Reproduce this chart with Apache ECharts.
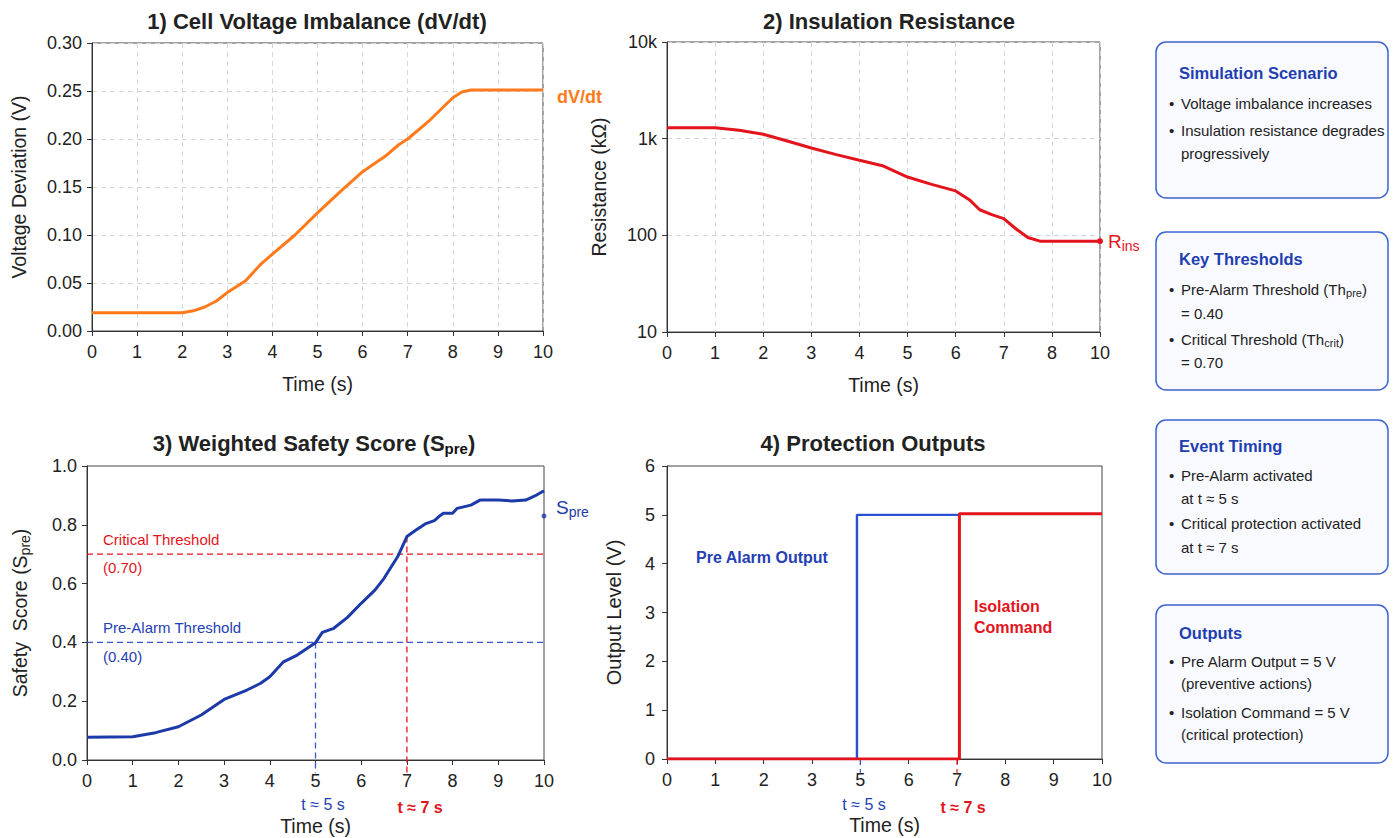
<!DOCTYPE html>
<html>
<head>
<meta charset="utf-8">
<title>Protection simulation</title>
<script src="https://cdn.jsdelivr.net/npm/echarts@6/dist/echarts.min.js"></script>
<style>
  html, body { margin: 0; padding: 0; background: #fff; }
  #main { width: 1394px; height: 838px; }
</style>
</head>
<body>
<div id="main"></div>
<script>
// 1) cell voltage imbalance
var dvTime = [0, 2, 2.25, 2.5, 2.75, 3, 3.4, 3.75, 4, 4.5, 5, 5.5, 6, 6.5, 6.8, 7, 7.5, 8, 8.2, 8.4, 10];
var dvValue = [0.019, 0.019, 0.021, 0.025, 0.031, 0.040, 0.052, 0.070, 0.080, 0.100, 0.123, 0.145, 0.166, 0.182, 0.194, 0.200, 0.220, 0.243, 0.249, 0.251, 0.251];

// 2) insulation resistance (x = tick slot, the axis skips "9")
var rinsTickLabels = ['0', '1', '2', '3', '4', '5', '6', '7', '8', '10'];
var rinsPos = [0, 1, 1.5, 2, 2.5, 3, 3.5, 4, 4.5, 5, 5.5, 6, 6.3, 6.5, 6.75, 7, 7.25, 7.5, 7.75, 8, 9];
var rinsValue = [1300, 1300, 1220, 1110, 946, 800, 688, 597, 521, 401, 337, 288, 230, 184, 164, 149, 117, 95, 87, 87, 87];

// 3) weighted safety score
var sTime = [0, 1, 1.5, 2, 2.5, 3, 3.5, 3.8, 4, 4.3, 4.6, 5, 5.15, 5.4, 5.7, 6, 6.3, 6.5, 6.8, 7, 7.2, 7.4, 7.6, 7.7, 7.8, 8, 8.1, 8.4, 8.6, 9, 9.3, 9.6, 9.8, 10];
var sValue = [0.077, 0.079, 0.093, 0.113, 0.153, 0.206, 0.238, 0.261, 0.283, 0.334, 0.357, 0.399, 0.434, 0.448, 0.485, 0.533, 0.578, 0.618, 0.692, 0.760, 0.782, 0.803, 0.814, 0.828, 0.839, 0.839, 0.856, 0.867, 0.884, 0.884, 0.881, 0.884, 0.898, 0.916];
var sEndDot = [10, 0.83];
var thPre = 0.40;
var thCrit = 0.70;
var tPre = 5;
var tCrit = 7;
var sAtCrit = 0.76;

// 4) protection outputs (x = tick slot, the axis skips "4")
var outTickLabels = ['0', '1', '2', '3', '5', '6', '7', '8', '9', '10'];
var preAlarmPos = [0, 3.93, 3.93, 6.05];
var preAlarmLevel = [0, 0, 5, 5];
var isoPos = [0, 6.05, 6.05, 9];
var isoLevel = [0, 0, 5.02, 5.02];
var outEventPos = [4, 6];

var FONT = 'Liberation Sans, Arial, sans-serif';
var ORANGE = '#ff7a1a';
var RED = '#e3141c';
var BLUE = '#1c3aa8';
var BLUE2 = '#2a4fd2';
var TXT = '#222';
var TICK_SIZE = 18;
var NAME_SIZE = 19.5;

function zip(xs, ys) {
  var out = [];
  for (var i = 0; i < xs.length; i++) out.push([xs[i], ys[i]]);
  return out;
}

function xAxisBase(idx, min, max, fmt) {
  return {
    type: 'value', gridIndex: idx, min: min, max: max, interval: 1,
    name: 'Time (s)', nameLocation: 'middle', nameGap: 43,
    nameTextStyle: { color: TXT, fontSize: NAME_SIZE, fontFamily: FONT },
    axisLine: { show: true, lineStyle: { color: '#333' } },
    axisTick: { show: true, length: 5, lineStyle: { color: '#333' } },
    axisLabel: { color: TXT, fontSize: TICK_SIZE, fontFamily: FONT, margin: 12, formatter: fmt },
    splitLine: { show: false }
  };
}

var subRich = {
  sub: { fontSize: 14, fontFamily: FONT, verticalAlign: 'bottom', padding: [10, 0, 0, 0] }
};

var xAxes = [
  xAxisBase(0, 0, 10),
  xAxisBase(1, 0, 9, function (v) { return rinsTickLabels[Math.round(v)]; }),
  xAxisBase(2, 0, 10),
  xAxisBase(3, 0, 9, function (v) { return outTickLabels[Math.round(v)]; })
];
xAxes[0].splitLine = { show: true, lineStyle: { color: '#d6d6d6', type: [5, 4] } };
xAxes[1].splitLine = { show: true, lineStyle: { color: '#d6d6d6', type: [5, 4] } };
xAxes[2].nameGap = 56;
xAxes[3].nameGap = 56;

var yAxes = [
  {
    type: 'value', gridIndex: 0, min: 0, max: 0.3, interval: 0.05,
    name: 'Voltage Deviation (V)', nameLocation: 'middle', nameGap: 63,
    nameTextStyle: { color: TXT, fontSize: NAME_SIZE, fontFamily: FONT },
    axisLine: { show: true, lineStyle: { color: '#333' } },
    axisTick: { show: true, length: 5, lineStyle: { color: '#333' } },
    axisLabel: { color: TXT, fontSize: TICK_SIZE, fontFamily: FONT, margin: 10, formatter: function (v) { return v.toFixed(2); } },
    splitLine: { show: true, lineStyle: { color: '#d6d6d6', type: [5, 4] } }
  },
  {
    type: 'log', gridIndex: 1, min: 10, max: 10000, logBase: 10,
    name: 'Resistance (kΩ)', nameLocation: 'middle', nameGap: 58,
    nameTextStyle: { color: TXT, fontSize: NAME_SIZE, fontFamily: FONT },
    axisLine: { show: true, lineStyle: { color: '#333' } },
    axisTick: { show: true, length: 5, lineStyle: { color: '#333' } },
    axisLabel: {
      color: TXT, fontSize: TICK_SIZE, fontFamily: FONT, margin: 10,
      formatter: function (v) { return v >= 10000 ? '10k' : v >= 1000 ? '1k' : String(Math.round(v)); }
    },
    splitLine: { show: true, lineStyle: { color: '#d6d6d6', type: [5, 4] } }
  },
  {
    type: 'value', gridIndex: 2, min: 0, max: 1, interval: 0.2,
    name: 'Safety  Score (S{sub|pre})', nameLocation: 'middle', nameGap: 55,
    nameTextStyle: { color: TXT, fontSize: NAME_SIZE, fontFamily: FONT, rich: subRich },
    axisLine: { show: true, lineStyle: { color: '#333' } },
    axisTick: { show: true, length: 5, lineStyle: { color: '#333' } },
    axisLabel: { color: TXT, fontSize: TICK_SIZE, fontFamily: FONT, margin: 10, formatter: function (v) { return v.toFixed(1); } },
    splitLine: { show: false }
  },
  {
    type: 'value', gridIndex: 3, min: 0, max: 6, interval: 1,
    name: 'Output Level (V)', nameLocation: 'middle', nameGap: 43,
    nameTextStyle: { color: TXT, fontSize: 20, fontFamily: FONT },
    axisLine: { show: true, lineStyle: { color: '#333' } },
    axisTick: { show: true, length: 5, lineStyle: { color: '#333' } },
    axisLabel: { color: TXT, fontSize: TICK_SIZE, fontFamily: FONT, margin: 12 },
    splitLine: { show: false }
  }
];

var gridStyle = { show: true, borderColor: '#444', borderWidth: 1, backgroundColor: '#fff', containLabel: false, outerBoundsMode: 'none' };
var grids = [
  Object.assign({ left: 92, top: 43, width: 451, height: 288 }, gridStyle),
  Object.assign({ left: 667, top: 42, width: 433, height: 290 }, gridStyle),
  Object.assign({ left: 87, top: 466, width: 457, height: 294 }, gridStyle),
  Object.assign({ left: 667, top: 466, width: 435, height: 293 }, gridStyle)
];

function dashed(xi, yi, data, color, width) {
  return {
    type: 'line', xAxisIndex: xi, yAxisIndex: yi, data: data, symbol: 'none', clip: false,
    silent: true, lineStyle: { color: color, width: width || 1.3, type: [6, 4] }, z: 1
  };
}

var rinsData = zip(rinsPos, rinsValue);
rinsData[rinsData.length - 1] = { value: rinsData[rinsData.length - 1], symbol: 'circle', symbolSize: 6 };

var series = [
  {
    type: 'line', xAxisIndex: 0, yAxisIndex: 0, data: zip(dvTime, dvValue),
    symbol: 'none', lineStyle: { color: ORANGE, width: 3 }, z: 3
  },
  {
    type: 'line', xAxisIndex: 1, yAxisIndex: 1, data: rinsData,
    symbol: 'none', itemStyle: { color: RED }, lineStyle: { color: RED, width: 3 }, z: 3
  },
  dashed(2, 2, [[0, thCrit], [10, thCrit]], RED),
  dashed(2, 2, [[0, thPre], [10, thPre]], '#3a57d0'),
  dashed(2, 2, [[tCrit, sAtCrit], [tCrit, -0.045]], RED),
  dashed(2, 2, [[tPre, thPre], [tPre, -0.045]], '#3a57d0'),
  {
    type: 'line', xAxisIndex: 2, yAxisIndex: 2, data: zip(sTime, sValue),
    symbol: 'none', lineStyle: { color: BLUE, width: 3 }, z: 3
  },
  {
    type: 'scatter', xAxisIndex: 2, yAxisIndex: 2, data: [sEndDot],
    symbolSize: 5, itemStyle: { color: BLUE }, clip: false, z: 3
  },
  {
    type: 'line', xAxisIndex: 3, yAxisIndex: 3, data: zip(preAlarmPos, preAlarmLevel),
    symbol: 'none', lineStyle: { color: BLUE2, width: 2.4 }, z: 3
  },
  {
    type: 'line', xAxisIndex: 3, yAxisIndex: 3, data: zip(isoPos, isoLevel),
    symbol: 'none', lineStyle: { color: RED, width: 3 }, z: 4
  },
  dashed(3, 3, [[outEventPos[0], 0], [outEventPos[0], -0.28]], BLUE2, 1.2),
  dashed(3, 3, [[outEventPos[1], 0], [outEventPos[1], -0.28]], RED, 1.2)
];

function txt(x, y, text, opt) {
  opt = opt || {};
  return {
    type: 'text', x: x, y: y, z: 10, silent: true,
    style: {
      text: text, fill: opt.color || TXT,
      font: (opt.weight || 'normal') + ' ' + (opt.size || 15) + 'px ' + FONT,
      align: opt.align || 'left', verticalAlign: 'middle',
      rich: opt.rich
    }
  };
}

function subStyle(size, color, weight) {
  return {
    sub: { fontSize: size, fill: color, fontWeight: weight || 'normal', fontFamily: FONT, verticalAlign: 'bottom', padding: [Math.round(size * 0.7), 0, 0, 0] }
  };
}

var graphics = [
  txt(317, 21, '1) Cell Voltage Imbalance (dV/dt)', { size: 22, weight: 'bold', align: 'center' }),
  txt(889, 21, '2) Insulation Resistance', { size: 22, weight: 'bold', align: 'center' }),
  txt(314, 443, '3) Weighted Safety Score (S{sub|pre})', { size: 22, weight: 'bold', align: 'center', rich: subStyle(15, '#111', 'bold') }),
  txt(873, 443, '4) Protection Outputs', { size: 22, weight: 'bold', align: 'center' }),

  txt(557, 97, 'dV/dt', { size: 18, weight: 'bold', color: ORANGE }),
  txt(1108, 241, 'R{sub|ins}', { size: 19, color: RED, rich: subStyle(14, RED) }),
  txt(556, 507, 'S{sub|pre}', { size: 19, color: BLUE, rich: subStyle(14, BLUE) }),

  txt(103, 539, 'Critical Threshold', { size: 15, color: RED }),
  txt(103, 567, '(0.70)', { size: 15, color: RED }),
  txt(103, 627, 'Pre-Alarm Threshold', { size: 15, color: '#2440b5' }),
  txt(103, 656, '(0.40)', { size: 15, color: '#2440b5' }),
  txt(323, 804, 't ≈ 5 s', { size: 16, color: '#2440b5', align: 'center' }),
  txt(420, 807, 't ≈ 7 s', { size: 16, color: RED, weight: 'bold', align: 'center' }),

  txt(696, 557, 'Pre Alarm Output', { size: 16, color: '#2440b5', weight: 'bold' }),
  txt(974, 606, 'Isolation', { size: 16, color: RED, weight: 'bold' }),
  txt(974, 627, 'Command', { size: 16, color: RED, weight: 'bold' }),
  txt(864, 804, 't ≈ 5 s', { size: 16, color: '#2440b5', align: 'center' }),
  txt(963, 807, 't ≈ 7 s', { size: 16, color: RED, weight: 'bold', align: 'center' })
];

// info boxes on the right
var boxes = [
  { top: 42, bottom: 198, title: 'Simulation Scenario', titleY: 73,
    lines: [['•', 'Voltage imbalance increases', 103], ['•', 'Insulation resistance degrades', 130], ['', 'progressively', 153]] },
  { top: 232, bottom: 390, title: 'Key Thresholds', titleY: 259,
    lines: [['•', 'Pre-Alarm Threshold (Th{sub|pre})', 289], ['', '= 0.40', 313], ['•', 'Critical Threshold (Th{sub|crit})', 339], ['', '= 0.70', 362]] },
  { top: 420, bottom: 574, title: 'Event Timing', titleY: 446,
    lines: [['•', 'Pre-Alarm activated', 475], ['', 'at t ≈ 5 s', 498], ['•', 'Critical protection activated', 523], ['', 'at t ≈ 7 s', 547]] },
  { top: 605, bottom: 763, title: 'Outputs', titleY: 633,
    lines: [['•', 'Pre Alarm Output = 5 V', 661], ['', '(preventive actions)', 683], ['•', 'Isolation Command = 5 V', 712], ['', '(critical protection)', 734]] }
];
boxes.forEach(function (b) {
  graphics.push({
    type: 'rect', z: 5, silent: true,
    shape: { x: 1156, y: b.top, width: 232, height: b.bottom - b.top, r: 10 },
    style: { fill: '#f9faff', stroke: '#3e63cf', lineWidth: 1.5 }
  });
  graphics.push(txt(1179, b.titleY, b.title, { size: 16.5, weight: 'bold', color: '#1f3fb0' }));
  b.lines.forEach(function (l) {
    if (l[0]) graphics.push(txt(1169, l[2], l[0], { size: 15 }));
    graphics.push(txt(1181, l[2], l[1], { size: 15, rich: subStyle(11, TXT) }));
  });
});

var myChart = echarts.init(document.getElementById('main'), null, { renderer: 'svg' });
myChart.setOption({
  backgroundColor: '#fff',
  animation: false,
  grid: grids,
  xAxis: xAxes,
  yAxis: yAxes,
  series: series,
  graphic: graphics
});
</script>
</body>
</html>
